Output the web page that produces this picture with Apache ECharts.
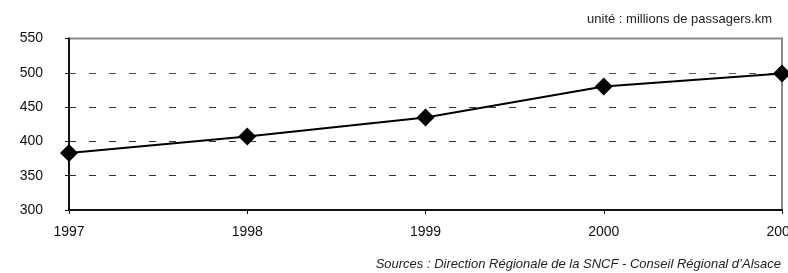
<!DOCTYPE html>
<html><head><meta charset="utf-8">
<script src="https://cdn.jsdelivr.net/npm/echarts@6/dist/echarts.min.js"></script>
<style>html,body{margin:0;padding:0;background:#fff}#c{width:788px;height:273px}</style>
</head><body><div id="c"></div>
<script>
const years = ['1997', '1998', '1999', '2000', '2001'];
const passengers = [383, 407, 435, 480, 499];
const yTicks = [300, 350, 400, 450, 500, 550];
const unitText = 'unité : millions de passagers.km';
const sourceText = 'Sources : Direction Régionale de la SNCF - Conseil Régional d’Alsace';

const chart = echarts.init(document.getElementById('c'), null, {renderer: 'canvas'});
const font = 'Liberation Sans, Arial, Helvetica, sans-serif';
chart.setOption({
  animation: false,
  backgroundColor: '#fff',
  textStyle: {fontFamily: font},
  title: [
    {text: unitText, right: 11, top: 8, textStyle: {fontSize: 13, fontWeight: 'normal', color: '#222', fontFamily: font}},
    {text: sourceText, right: 2, top: 253, textStyle: {fontSize: 13, fontWeight: 'normal', fontStyle: 'italic', color: '#222', fontFamily: font}}
  ],
  grid: {left: 69, right: 6, top: 38.5, bottom: 63, show: true, borderColor: '#888', borderWidth: 2, containLabel: false, outerBoundsMode: 'none'},
  xAxis: {
    type: 'category', data: years, boundaryGap: false,
    axisLine: {lineStyle: {color: '#111', width: 2}},
    axisTick: {show: true, length: 4, lineStyle: {color: '#111'}},
    axisLabel: {color: '#111', fontSize: 14, margin: 15, fontFamily: font}
  },
  yAxis: {
    type: 'value', min: yTicks[0], max: yTicks[yTicks.length - 1], interval: 50,
    axisLine: {show: true, lineStyle: {color: '#111', width: 2}},
    axisTick: {show: true, length: 4, lineStyle: {color: '#111'}},
    axisLabel: {color: '#111', fontSize: 14, margin: 26, fontFamily: font},
    splitLine: {show: true, lineStyle: {color: ['rgba(0,0,0,0)', '#333', '#333', '#333', '#555', 'rgba(0,0,0,0)'], type: [7, 13], width: 1}}
  },
  series: [{
    type: 'line', data: passengers,
    symbol: 'diamond', symbolSize: 18,
    lineStyle: {color: '#000', width: 2},
    itemStyle: {color: '#000'},
    z: 5
  }]
});
</script></body></html>
